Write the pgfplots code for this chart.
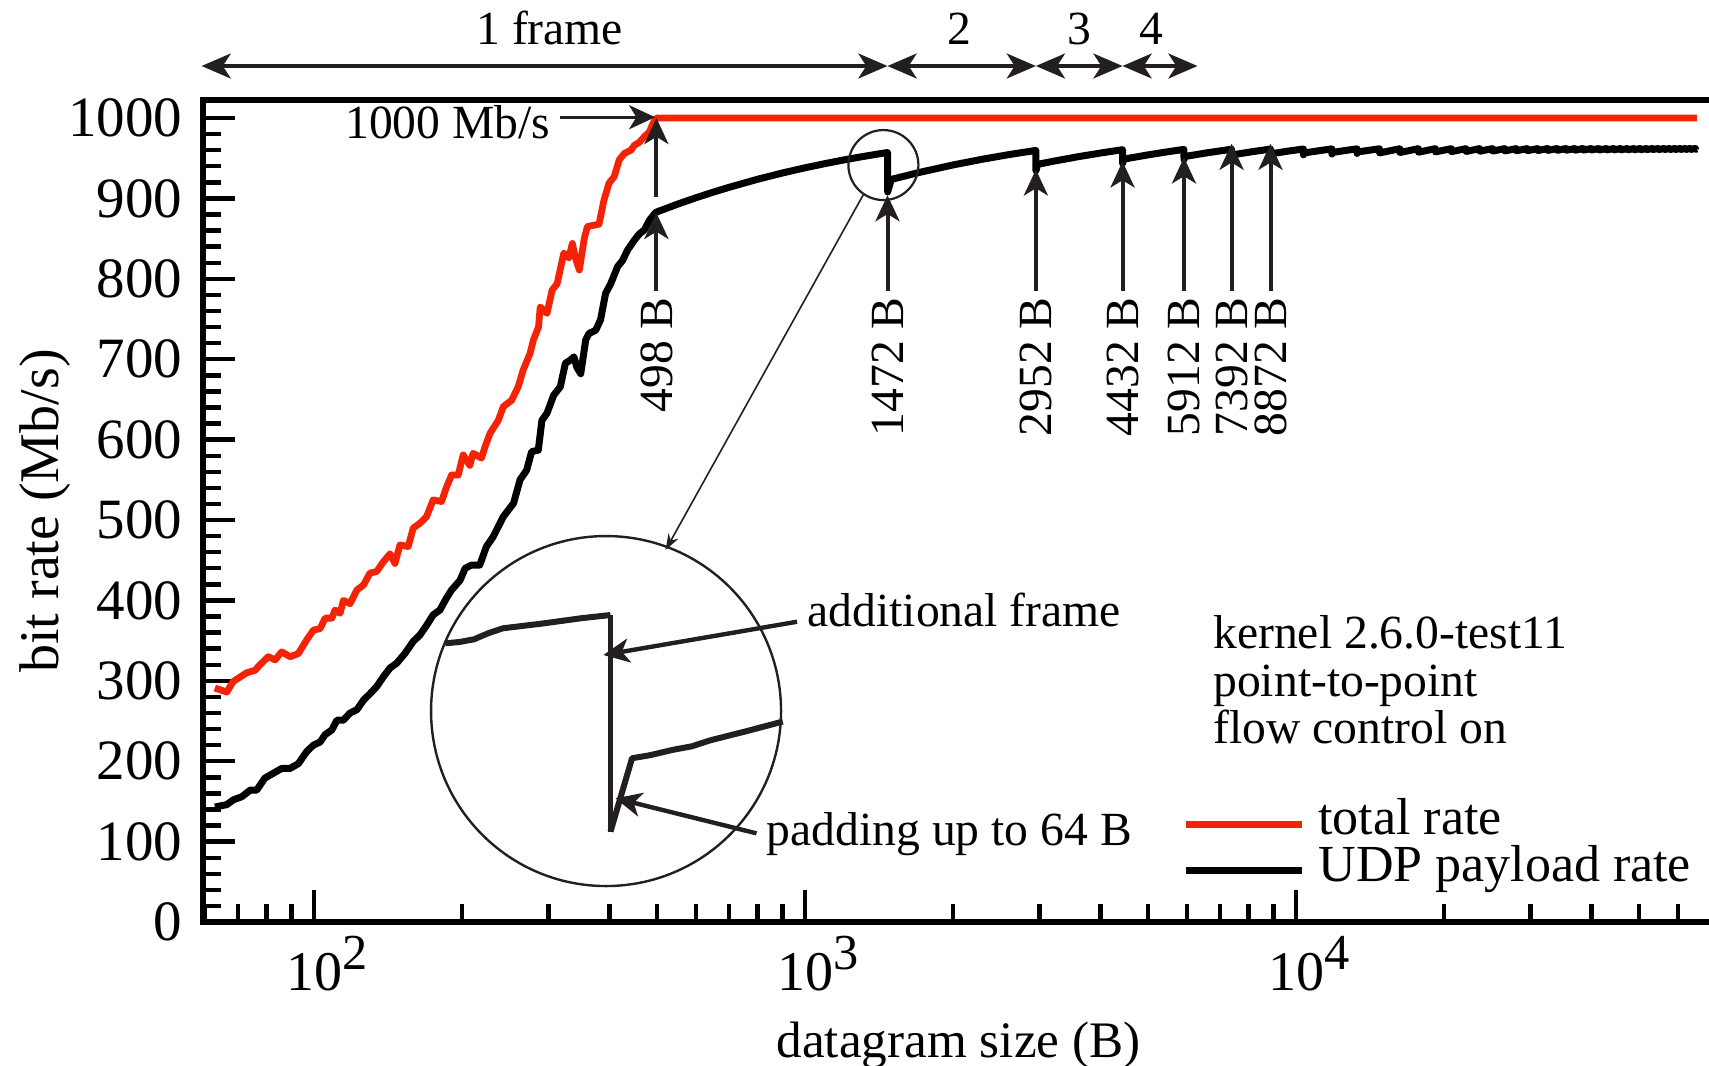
\documentclass[border=0pt]{standalone}
\usepackage{fontspec}
\setmainfont{Liberation Serif}
\usepackage{pgfplots}
\pgfplotsset{compat=1.18}
\usetikzlibrary{arrows.meta}
\definecolor{rateRed}{RGB}{245,35,5}
\definecolor{anncol}{RGB}{35,31,32}

\begin{document}
\begin{tikzpicture}[
  ann/.style={draw=anncol, line width=1pt, arrows={-Stealth[length=6.5pt,width=6pt,inset=1.8pt]}},
  lab/.style={font=\fontsize{11.9}{12}\selectfont, inner sep=0pt, text=black},
  vlab/.style={lab, rotate=90, anchor=east}
]
\begin{axis}[
  scale only axis, width=377.75pt, height=205.5pt,
  xmode=log,
  xmin=59.4, xmax=71020, ymin=0, ymax=1022.4,
  clip=false,
  axis line style={line width=1.5pt, black},
  xtick pos=left, ytick pos=left, tick align=inside,
  xtick={100,1000,10000},
  xticklabels={10\rlap{\raisebox{5.25pt}{\fontsize{12.6}{12}\selectfont 2}},
               10\rlap{\raisebox{5.25pt}{\fontsize{12.6}{12}\selectfont 3}},
               10\rlap{\raisebox{5.25pt}{\fontsize{12.6}{12}\selectfont 4}}},
  minor xtick={60,70,80,90,200,300,400,500,600,700,800,900,2000,3000,4000,5000,6000,7000,8000,9000,20000,30000,40000,50000,60000,70000},
  ytick={0,100,200,300,400,500,600,700,800,900,1000},
  minor y tick num=4,
  yticklabel={\pgfmathparse{int(\tick)}\pgfmathresult},
  major tick length=8pt, minor tick length=4.4pt,
  tick style={black, line width=1.1pt},
  xticklabel style={anchor=base, inner sep=0pt, yshift=-17pt, font=\fontsize{14}{14}\selectfont},
  yticklabel style={anchor=east, inner sep=0pt, xshift=-5pt, font=\fontsize{14.25}{14}\selectfont},
  xlabel={datagram size (B)},
  xlabel style={at={(axis description cs:0.5,0)}, anchor=base, inner sep=0pt, yshift=-33.9pt, font=\fontsize{12.8}{13}\selectfont},
  ylabel={bit rate (Mb/s)},
  ylabel style={at={(axis description cs:-0.0953,0.5)}, anchor=base, inner sep=0pt, font=\fontsize{14}{14}\selectfont},
  legend style={at={(axis description cs:0.6478,0.151)}, anchor=north west, draw=none, fill=none,
    inner sep=0pt, row sep=2.6pt, column sep=3.2pt, font=\fontsize{13}{13}\selectfont,
    nodes={inner sep=0pt, text depth=0pt}},
  legend cell align=left,
  legend image code/.code={\draw[#1] (0pt,-1.9pt) -- (29pt,-1.9pt);},
]
% total rate
\addplot[rateRed, line width=1.7pt, line join=round] coordinates {
(62.8,291)(66.4,286)(68.4,299)(72.9,310)(75.8,313)(77.6,320)(80.7,330)(83.3,326)(85.9,336)(89.4,330)
(92.9,334)(96.6,351)(99.7,363)(102.9,365)(105.3,378)(108.7,378)(110.3,388)(113,384)(114.7,400)(118.4,396)
(122.2,413)(126,419)(130,434)(134.1,436)(138.4,448)(142.8,458)(146.1,446)(149.6,469)(155.5,467)(159.2,490)
(164.3,496)(169.4,504)(174.8,525)(181.8,523)(186.1,541)(190.6,556)(196.6,556)(201.2,581)(207.6,568)(210.8,583)
(219.2,577)(222.9,591)(228.3,608)(237.2,624)(242.9,641)(252.6,649)(260.5,666)(266.7,687)(275.3,707)(279.7,724)
(286.5,740)(288.8,765)(298.2,757)(305.3,786)(312.7,794)(322.6,832)(330.4,826)(335.7,844)(341,825)(347,811)
(355,850)(360.3,865)(380.5,868)(389.5,898)(398.8,919)(408.5,927)(418.3,948)(428.6,956)(442,960)(449,966)
(460,970)(470.9,977)(482.2,983)(489.8,993)(498,1000)(65507,1000)
};
\addlegendentry{total rate}
% UDP payload rate
\addplot[black, line width=1.75pt, line join=round] coordinates {
(62.8,143)(66.4,146)(68.5,152)(71.3,156)(74.1,164)(76.4,164)(79.4,179)(82.6,185)(85.9,191)(89.3,191)
(92.9,197)(96.6,212)(99.7,220)(102.9,224)(105.3,233)(108.7,239)(111.3,251)(114.7,251)(118.4,260)(122.2,264)
(126.1,276)(130,284)(134.2,293)(138.4,305)(142.8,316)(147.4,322)(153.1,334)(159.2,349)(164.3,357)(169.5,369)
(174.8,382)(180.4,388)(186.1,403)(190.6,413)(198.3,425)(203.1,440)(209.2,444)(217.5,444)(224.4,467)(231.5,479)
(242.8,504)(254.9,521)(262.7,550)(271,562)(277.4,585)(286.2,587)(291.1,624)(298.2,633)(307.5,655)(317.4,666)
(325,695)(333,699)(338.3,703)(343,690)(349.2,682)(357.5,724)(363,732)(374.6,736)(383.2,749)(392.5,782)
(402,794)(415,815)(425,823)(435.2,836)(449,848)(459.9,856)(471,861)(482.2,873)(493.8,881)
(498,883)(550,892.9)(600,900.9)(650,907.8)(700,913.8)(800,923.8)(900,931.7)(1000,938.1)(1100,943.4)
(1200,947.9)(1300,951.7)(1400,955.0)(1472,957.1)
(1473,908.1)(1478,911.2)(1490,918.6)(1498,923.6)(1550,925.9)(1700,932.0)(2000,941.6)(2300,948.8)(2600,954.5)(2952,959.7)
(2953,934.5)(2978,942.4)(3200,946.2)(3600,951.9)(4000,956.5)(4432,960.6)
(4433,943.6)(4458,948.9)(5000,954.2)(5500,958.2)(5912,961.0)
(5913,948.2)(5938,952.2)(6600,956.8)(7392,961.2)
(7393,951.0)(7418,954.2)(8100,957.9)(8872,961.4)
(8873,952.9)(8898,955.5)(9600,958.7)(10352,961.5)
(10353,954.2)(10378,956.5)(11100,959.2)(11832,961.6)
(11833,955.2)(11858,957.2)(12600,959.6)(13312,961.7)
(13313,956.0)(13338,957.8)(14050,959.8)(14792,961.8)
(14793,956.6)(16272,961.8)(16273,957.1)(17752,961.9)(17753,957.5)(19232,961.9)
(19233,957.9)(20712,961.9)(20713,958.2)(22192,961.9)(22193,958.4)(23672,962.0)
(23673,958.7)(25152,962.0)(25153,958.9)(26632,962.0)(26633,959.1)(28112,962.0)
(28113,959.3)(29592,962.0)(29593,959.4)(31072,962.0)(31073,959.5)(32552,962.1)
(32553,959.7)(34032,962.1)(34033,959.8)(35512,962.1)(35513,959.9)(36992,962.1)
(36993,960.0)(38472,962.1)(38473,960.1)(39952,962.1)(39953,960.2)(41432,962.1)
(41433,960.2)(42912,962.1)(42913,960.3)(44392,962.1)(44393,960.4)(45872,962.1)
(45873,960.4)(47352,962.1)(47353,960.5)(48832,962.1)(48833,960.5)(50312,962.1)
(50313,960.6)(51792,962.1)(51793,960.6)(53272,962.2)(53273,960.7)(54752,962.2)
(54753,960.7)(56232,962.2)(56233,960.8)(57712,962.2)(57713,960.8)(59192,962.2)
(59193,960.8)(60672,962.2)(60673,960.9)(62152,962.2)(62153,960.9)(63632,962.2)
(63633,960.9)(65112,962.2)(65113,960.9)(65507,961.6)
};
\addlegendentry{UDP payload rate}

% frame count arrows above the plot
\draw[anncol, line width=0.8pt, arrows={Stealth[length=7.3pt,width=6.25pt,inset=2pt]-Stealth[length=7.3pt,width=6.25pt,inset=2pt]}]
  (59,1064.7) -- (1472,1064.7);
\draw[anncol, line width=0.8pt, arrows={Stealth[length=7.3pt,width=6.25pt,inset=2pt]-Stealth[length=7.3pt,width=6.25pt,inset=2pt]}]
  (1472,1064.7) -- (2952,1064.7);
\draw[anncol, line width=0.8pt, arrows={Stealth[length=7.3pt,width=6.25pt,inset=2pt]-Stealth[length=7.3pt,width=6.25pt,inset=2pt]}]
  (2952,1064.7) -- (4432,1064.7);
\draw[anncol, line width=0.8pt, arrows={Stealth[length=7.3pt,width=6.25pt,inset=2pt]-Stealth[length=7.3pt,width=6.25pt,inset=2pt]}]
  (4432,1064.7) -- (6300,1064.7);
\node[lab, anchor=base] at (302,1091) {1 frame};
\node[lab, anchor=base] at (2059,1091) {2};
\node[lab, anchor=base] at (3614,1091) {3};
\node[lab, anchor=base] at (5067,1091) {4};

% 1000 Mb/s marker
\node[lab, anchor=base east] at (304,975) {1000 Mb/s};
\draw[ann, line width=0.8pt] (317,1001) -- (495,1001);

% breakpoints
\draw[ann] (498,784.8) -- (498,882);
\draw[ann] (498,902) -- (498,1000);
\draw[ann] (1472,784.8) -- (1472,904);
\draw[ann] (2952,784.8) -- (2952,936);
\draw[ann] (4432,784.8) -- (4432,946);
\draw[ann] (5912,784.8) -- (5912,951);
\draw[ann] (7392,784.8) -- (7392,968);
\draw[ann] (8872,784.8) -- (8872,968);
\node[vlab] at (498,778) {498 B};
\node[vlab] at (1472,778) {1472 B};
\node[vlab] at (2952,778) {2952 B};
\node[vlab] at (4432,778) {4432 B};
\node[vlab] at (5912,778) {5912 B};
\node[vlab] at (7392,778) {7392 B};
\node[vlab] at (8872,778) {8872 B};

% magnifier
\draw[anncol, line width=0.55pt] (1444,941.5) circle[radius=8.75pt];
\draw[anncol, line width=0.6pt] (393.3,262.4) circle[radius=43.75pt];
\draw[anncol, line width=0.4pt, arrows={-Stealth[length=4pt,width=2.8pt]}] (1313,904.2) -- (520,462.7);

\node[lab, anchor=base west] at (1008,367.3) {additional frame};
\draw[ann, line width=1.1pt] (963.2,373.5) -- (388.3,332.1);
\node[lab, anchor=base west] at (833,95.8) {padding up to 64 B};
\draw[ann, line width=1.1pt] (796.5,110.3) -- (411,153.9);

\node[lab, anchor=base west] at (6761,340.8) {kernel 2.6.0-test11};
\node[lab, anchor=base west] at (6761,279.9) {point-to-point};
\node[lab, anchor=base west] at (6761,222.6) {flow control on};
\end{axis}

% zoomed detail inside the circle
\begin{axis}[
  at={(59.95pt,13.65pt)}, anchor=south west,
  scale only axis, width=87.15pt, height=66.3pt,
  hide axis, clip=false,
  xmin=1270, xmax=1690, ymin=900, ymax=960,
]
\addplot[anncol, line width=1.5pt, line join=round] coordinates {
(1273,950.7)(1290,951.0)(1307.5,951.6)(1325,953.0)(1342.5,954.1)(1391,955.2)(1437.7,956.4)(1472,957.1)
};
\addplot[anncol, line width=1.1pt] coordinates {(1472,957.1)(1472,908.1)};
\addplot[anncol, line width=1.5pt, line join=round] coordinates {
(1472,908.1)(1498,924.7)(1520,925.4)(1547,926.6)(1570,927.4)(1593,928.8)(1633.4,930.7)(1679.6,933.0)
};
\end{axis}

\pgfresetboundingbox
\useasboundingbox (-50.75pt,-35.75pt) rectangle (376.5pt,230.5pt);
\end{tikzpicture}
\end{document}
